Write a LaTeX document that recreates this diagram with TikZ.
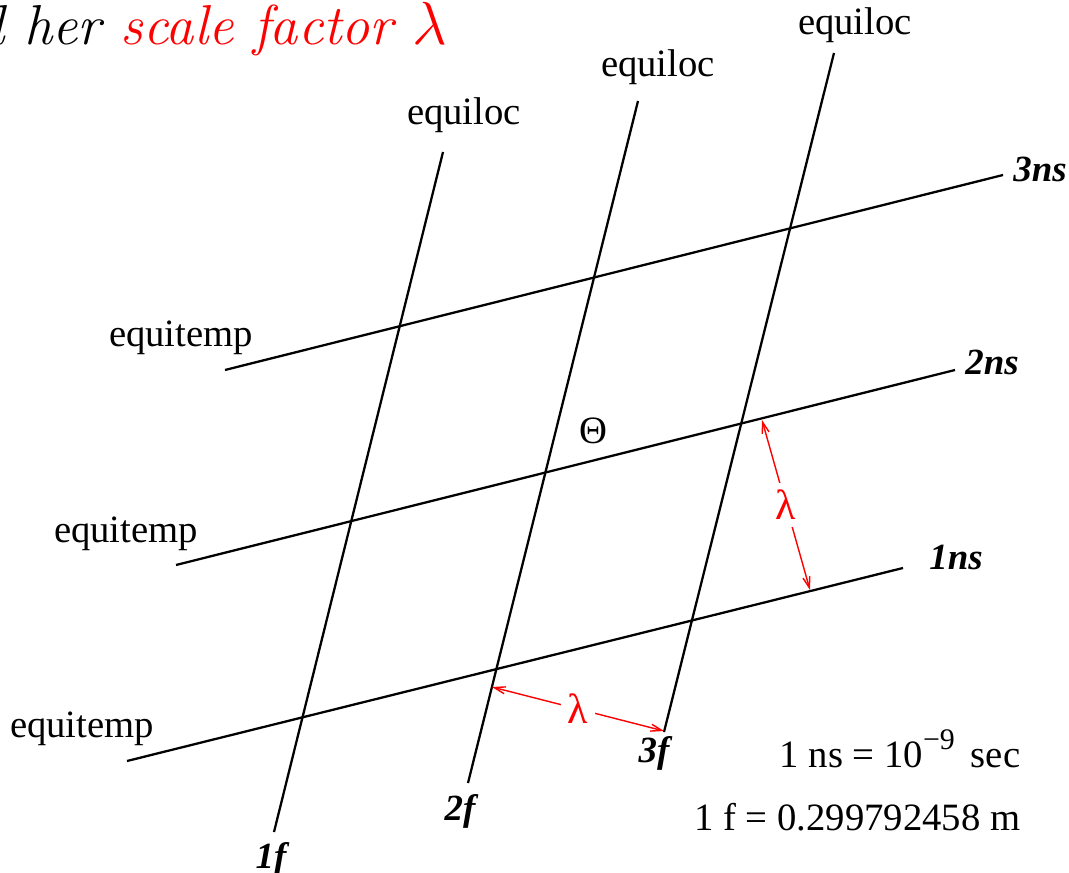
\documentclass[tikz,border=0pt]{standalone}
\usepackage{fontspec}
\newfontfamily\tms{Liberation Serif}
\usetikzlibrary{arrows.meta}

\begin{document}
\begin{tikzpicture}[
  x=0.01cm,
  y=-0.01cm,
  gridline/.style={line width=0.65pt},
  lbl/.style={anchor=base,inner sep=0pt,font=\tms\fontsize{11}{13}\selectfont},
  unit/.style={anchor=base,inner sep=0pt,font=\tms\bfseries\itshape\fontsize{10.5}{12}\selectfont},
  lam/.style={red,thin,{Straight Barb[length=1.1mm,width=0.7mm]}-{Straight Barb[length=1.1mm,width=0.7mm]}},
  lamlbl/.style={font=\tms\fontsize{12}{14}\selectfont,text=red,fill=white,inner sep=2pt}
]
\useasboundingbox (0,0) rectangle (1069,873);
\node[anchor=base west,inner sep=0pt,font=\itshape\fontsize{16}{19}\selectfont] (title) at (-24,45) {d her \textcolor{red}{scale factor $\lambda$}};
% equiloc lines
\coordinate (f1top) at (443,152);
\coordinate (f1bot) at (274,832);
\coordinate (f2top) at (638,101);
\coordinate (f2bot) at (468,783);
\coordinate (f3top) at (834,53);
\coordinate (f3bot) at (664,732);
% equitemp lines
\coordinate (ns1left) at (127,761);
\coordinate (ns1right) at (903,568);
\coordinate (ns2left) at (176,565);
\coordinate (ns2right) at (955,370);
\coordinate (ns3left) at (225,370);
\coordinate (ns3right) at (1003,175);
\draw[gridline] (f1top) -- (f1bot);
\draw[gridline] (f2top) -- (f2bot);
\draw[gridline] (f3top) -- (f3bot);
\draw[gridline] (ns1left) -- (ns1right);
\draw[gridline] (ns2left) -- (ns2right);
\draw[gridline] (ns3left) -- (ns3right);
\node[lbl] (loc1) at (464,125) {equiloc};
\node[lbl] (loc2) at (658,77) {equiloc};
\node[lbl] (loc3) at (855,35) {equiloc};
\node[lbl] (temp3) at (181,347) {equitemp};
\node[lbl] (temp2) at (126,542) {equitemp};
\node[lbl] (temp1) at (82,737) {equitemp};
\node[unit] (u1f) at (271,868) {1f};
\node[unit] (u2f) at (460,820) {2f};
\node[unit] (u3f) at (654,762) {3f};
\node[unit] (u1ns) at (956,570) {1ns};
\node[unit] (u2ns) at (992,375) {2ns};
\node[unit] (u3ns) at (1040,182) {3ns};
\node[lbl] (theta) at (593,443) {Θ};
% scale factor arrows
\coordinate (a1) at (762,420);
\coordinate (a2) at (810,590);
\coordinate (b1) at (492,687);
\coordinate (b2) at (664,731);
\draw[lam] (a1) -- node[lamlbl] (lamv) {λ} (a2);
\draw[lam] (b1) -- node[lamlbl] (lamh) {λ} (b2);
\node[lbl,anchor=base east] (nsdef) at (1021,767) {1 ns = 10\raisebox{1.7mm}{\fontsize{8.5}{9}\selectfont −9}\hspace{1.6mm}sec};
\node[lbl,anchor=base east] (fdef) at (1021,830) {1 f = 0.299792458 m};
\end{tikzpicture}
\end{document}
